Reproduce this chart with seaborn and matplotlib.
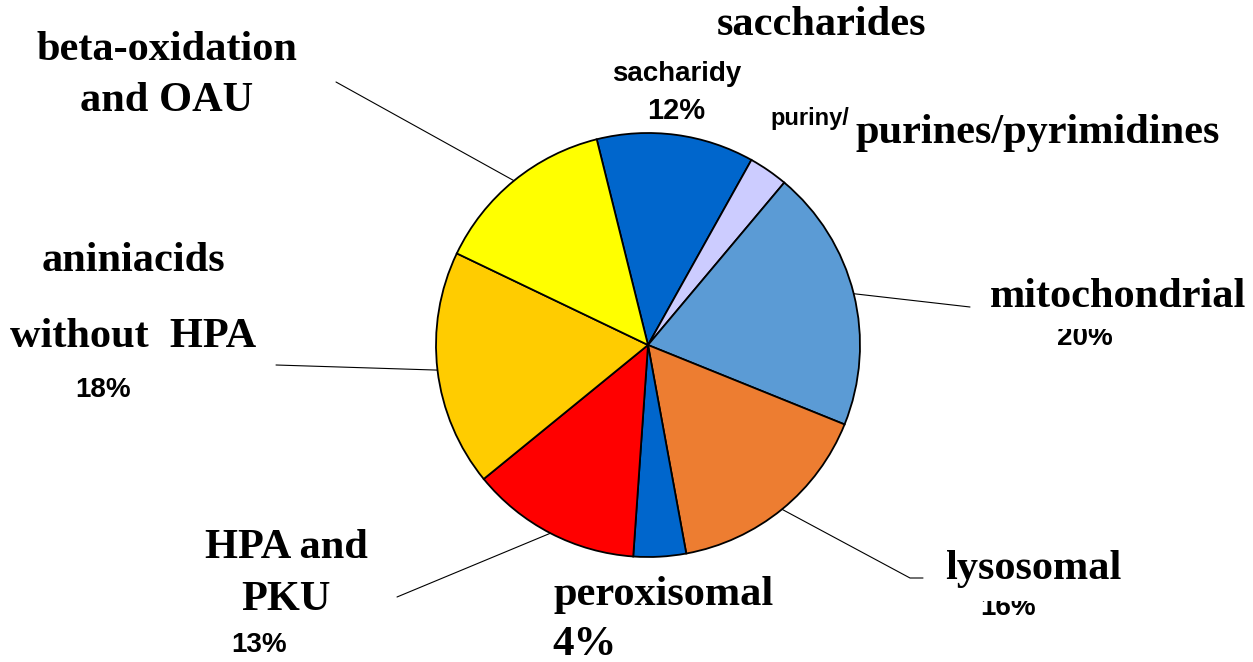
import numpy as np
import matplotlib
matplotlib.use("Agg")
import matplotlib.pyplot as plt
import seaborn as sns

# ---- data ----
categories = ["saccharides", "purines/pyrimidines", "mitochondrial", "lysosomal",
              "peroxisomal", "HPA and PKU", "aniniacids without HPA", "beta-oxidation and OAU"]
values = [12, 3, 20, 16, 4, 13, 18, 14]
colors = ["#0066CC", "#CCCCFF", "#5B9BD5", "#ED7D31", "#0066CC", "#FF0000", "#FFCC00", "#FFFF00"]

sns.set_theme(style="white")
plt.rcParams['font.family'] = ['Liberation Serif', 'DejaVu Serif']

W, H = 1253, 662
fig = plt.figure(figsize=(W / 100, H / 100), dpi=100)
ax = fig.add_axes([0, 0, 1, 1])

cx, cy, R = 648, H - 345, 212
wedges, _ = ax.pie(values, colors=colors, startangle=104, counterclock=False,
                   center=(cx, cy), radius=R,
                   wedgeprops=dict(edgecolor="black", linewidth=1.3))
ax.set_xlim(0, W)
ax.set_ylim(0, H)
ax.set_aspect('auto')
ax.axis('off')

def P(x, y):
    return (x, H - y)

serif = dict(family=['Liberation Serif', 'DejaVu Serif'], weight='bold', color='black')
sans = dict(family=['Liberation Sans Narrow', 'Liberation Sans', 'DejaVu Sans'], weight='bold', color='black')
FS = 30.5

# leader lines from wedge mid-angles to labels
def leader(i, pts):
    w = wedges[i]
    ang = np.deg2rad((w.theta1 + w.theta2) / 2)
    x0, y0 = cx + R * np.cos(ang), cy + R * np.sin(ang)
    xs = [x0] + [p[0] for p in pts]
    ys = [y0] + [H - p[1] for p in pts]
    ax.plot(xs, ys, color='black', lw=0.8, zorder=1)

leader(7, [(336, 82)])
leader(6, [(276, 365)])
leader(2, [(970, 307)])
leader(3, [(910, 578), (923, 578)])
leader(5, [(397, 597)])

# labels
ax.text(*P(822, 25), "saccharides", ha='center', va='center', fontsize=FS, **serif)
ax.text(*P(677, 74), "sacharidy", ha='center', va='center', fontsize=20, **sans)
ax.text(*P(676, 111), f"{values[0]}%", ha='center', va='center', fontsize=21, **sans)
ax.text(*P(810, 118), "puriny/", ha='center', va='center', fontsize=17, **sans)
ax.text(*P(1038, 133), "purines/pyrimidines", ha='center', va='center', fontsize=FS, **serif)

ax.text(*P(1085, 338), f"{values[2]}%", ha='center', va='center', fontsize=20, zorder=3, **sans)
ax.text(*P(1118, 297), "mitochondrial", ha='center', va='center', fontsize=FS, zorder=4,
        bbox=dict(facecolor='white', edgecolor='none', pad=9), **serif)

ax.text(*P(1008, 608), f"{values[3]}%", ha='center', va='center', fontsize=20, zorder=3, **sans)
ax.text(*P(1033, 569), "lysosomal", ha='center', va='center', fontsize=FS, zorder=4,
        bbox=dict(facecolor='white', edgecolor='none', pad=9), **serif)

ax.text(*P(553, 595), "peroxisomal", ha='left', va='center', fontsize=FS, **serif)
ax.text(*P(552, 645), f"{values[4]}%", ha='left', va='center', fontsize=31, **serif)

ax.text(*P(286, 548), "HPA and", ha='center', va='center', fontsize=FS, **serif)
ax.text(*P(286, 600), "PKU", ha='center', va='center', fontsize=FS, **serif)
ax.text(*P(259, 645), f"{values[5]}%", ha='center', va='center', fontsize=20, **sans)

ax.text(*P(133, 261), "aniniacids", ha='center', va='center', fontsize=FS, **serif)
ax.text(*P(133, 337), "without  HPA", ha='center', va='center', fontsize=FS, **serif)
ax.text(*P(103, 390), f"{values[6]}%", ha='center', va='center', fontsize=20, **sans)

ax.text(*P(167, 50), "beta-oxidation", ha='center', va='center', fontsize=FS, **serif)
ax.text(*P(167, 101), "and OAU", ha='center', va='center', fontsize=FS, **serif)

fig.savefig("out.png", dpi=100, facecolor='white')
